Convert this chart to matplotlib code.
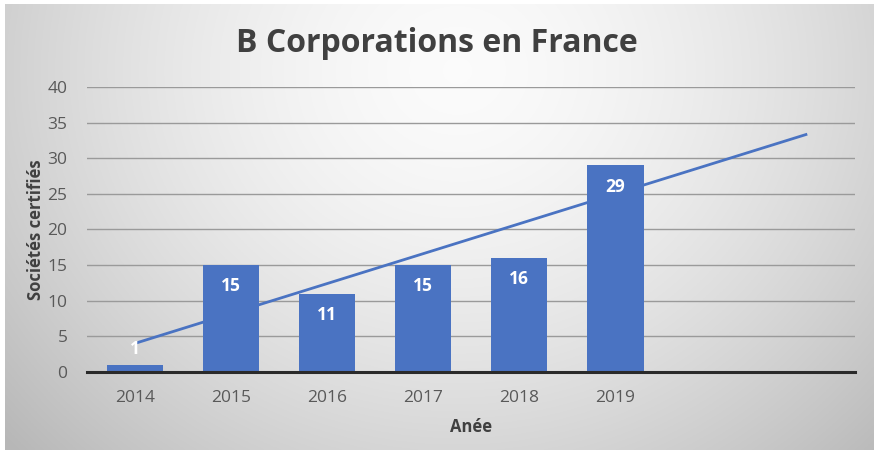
import numpy as np
import matplotlib
matplotlib.use("Agg")
import matplotlib.pyplot as plt

years = ["2014", "2015", "2016", "2017", "2018", "2019"]
values = [1, 15, 11, 15, 16, 29]
forecast_periods = 2
yticks = [0, 5, 10, 15, 20, 25, 30, 35, 40]

title = "B Corporations en France"
xlabel = "Anée"
ylabel = "Sociétés certifiés"

BLUE = "#4a73c2"
TXT = "#595959"
DARK = "#404040"

plt.rcParams['font.family'] = ['Open Sans', 'DejaVu Sans']

fig = plt.figure(figsize=(8.79, 4.54), dpi=100)
fig.patch.set_facecolor("white")

# background gradient panel
bg = fig.add_axes([0.006, 0.008, 0.988, 0.984], zorder=-10)
h, w = 300, 600
yy, xx = np.mgrid[0:h, 0:w]
cx, cy = w * 0.52, h * 0.15
d = np.sqrt(((xx - cx) / (w * 0.62)) ** 2 + ((yy - cy) / (h * 1.1)) ** 2)
g = np.clip(0.985 - 0.22 * d ** 1.6, 0.72, 1.0)
bg.imshow(np.dstack([g, g, g]), aspect="auto", extent=[0, 1, 0, 1])
bg.set_axis_off()

ax = fig.add_axes([0.099, 0.181, 0.874, 0.627])
ax.set_facecolor("none")
x = np.arange(len(values))
ax.bar(x, values, width=0.59, color=BLUE, zorder=3)

# linear trendline with forward forecast
coef = np.polyfit(x, values, 1)
xt = np.array([0, len(values) - 1 + forecast_periods])
ax.plot(xt, np.polyval(coef, xt), color=BLUE, lw=2.0, zorder=4, solid_capstyle="butt")

for xi, v in zip(x, values):
    yl = v - 3.0 if v >= 5 else v + 2.2
    ax.text(xi, yl, str(v), ha="center", va="center", color="white",
            fontsize=12.5, fontweight="bold", zorder=5)

ax.set_xlim(-0.5, len(values) - 0.5 + forecast_periods)
ax.set_ylim(0, 40)
ax.set_yticks(yticks)
ax.set_yticklabels([str(t) for t in yticks], color=TXT, fontsize=12.5)
ax.set_xticks(x)
ax.set_xticklabels(years, color=TXT, fontsize=12.5)
ax.tick_params(length=0, pad=13)
ax.tick_params(axis="y", pad=14)
ax.grid(axis="y", color="#9a9a9a", lw=1.0, zorder=1)
for s in ["top", "right", "left"]:
    ax.spines[s].set_visible(False)
ax.spines["bottom"].set_color("#2a2a2a")
ax.spines["bottom"].set_linewidth(2.2)
ax.spines["bottom"].set_zorder(6)

ax.set_xlabel(xlabel, fontsize=12, fontweight="bold", color=DARK, labelpad=9)
ax.set_ylabel(ylabel, fontsize=12, fontweight="bold", color=DARK, labelpad=2)
fig.text(0.497, 0.905, title, ha="center", va="center", fontsize=23,
         fontweight="bold", color=DARK)

fig.savefig("out.png", dpi=100, facecolor=fig.get_facecolor())
